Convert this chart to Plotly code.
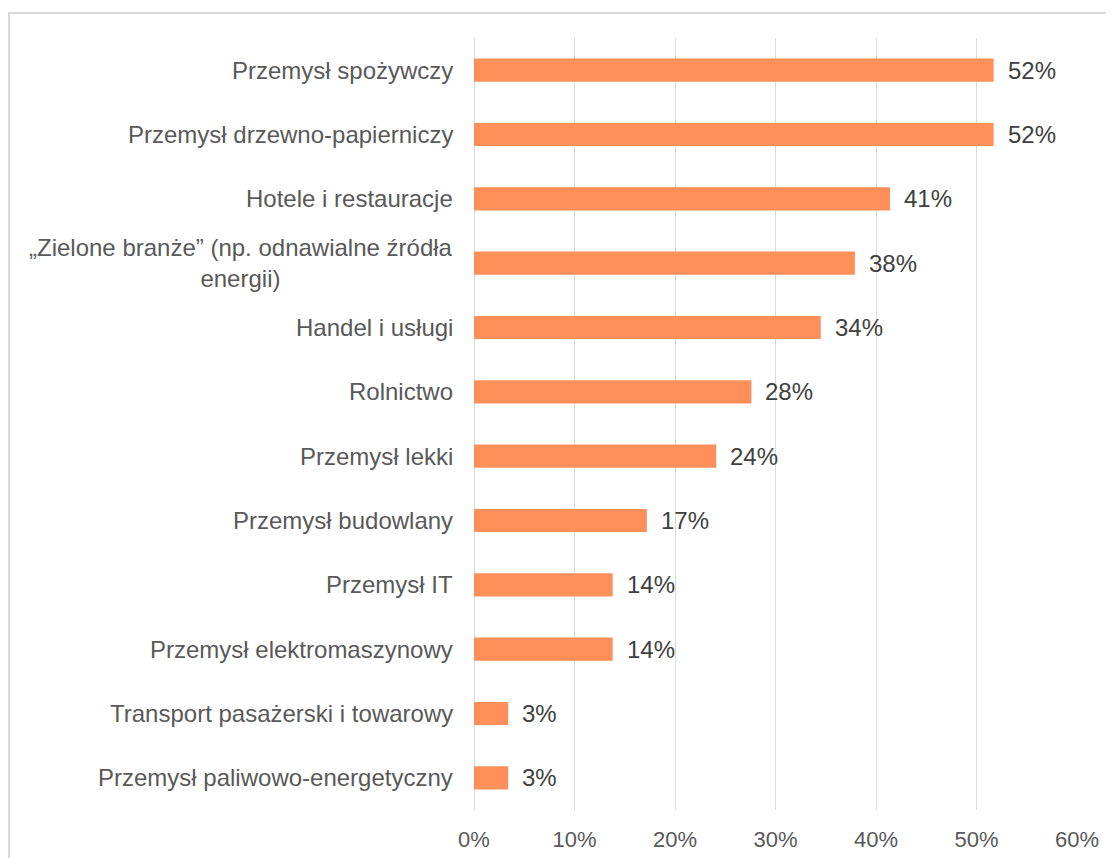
import plotly.graph_objects as go

categories = [
    "Przemysł spożywczy",
    "Przemysł drzewno-papierniczy",
    "Hotele i restauracje",
    "„Zielone branże” (np. odnawialne źródła<br>energii)",
    "Handel i usługi",
    "Rolnictwo",
    "Przemysł lekki",
    "Przemysł budowlany",
    "Przemysł IT",
    "Przemysł elektromaszynowy",
    "Transport pasażerski i towarowy",
    "Przemysł paliwowo-energetyczny",
]
values = [51.7, 51.7, 41.4, 37.9, 34.5, 27.6, 24.1, 17.2, 13.8, 13.8, 3.4, 3.4]
value_labels = ["52%", "52%", "41%", "38%", "34%", "28%", "24%", "17%", "14%", "14%", "3%", "3%"]
tick_vals = [0, 10, 20, 30, 40, 50, 60]
tick_text = ["0%", "10%", "20%", "30%", "40%", "50%", "60%"]

ycats = list(range(len(categories)))

fig = go.Figure()
fig.add_trace(go.Bar(
    x=values, y=ycats, orientation="h",
    marker=dict(color="#FF8F59", line=dict(width=0)),
    width=0.36, hoverinfo="skip",
))

annotations = []
for i, (c, v, lab) in enumerate(zip(categories, values, value_labels)):
    annotations.append(dict(
        x=0, y=i, xref="x", yref="y", text=c, showarrow=False,
        xanchor="right", yanchor="middle", align="center", xshift=-19,
        font=dict(family="Liberation Sans, Arial, sans-serif", size=24, color="#595959"),
    ))
    annotations.append(dict(
        x=v, y=i, xref="x", yref="y", text=lab, showarrow=False,
        xanchor="left", yanchor="middle", xshift=12,
        font=dict(family="Liberation Sans, Arial, sans-serif", size=24, color="#404040"),
    ))

# page has an 8px body margin; plot area spans x 474..1077, y 38..810 in the window
fig.update_layout(
    width=1106, height=850,
    margin=dict(l=466, r=37, t=30, b=48, autoexpand=False),
    paper_bgcolor="white", plot_bgcolor="white",
    showlegend=False,
    annotations=annotations,
    xaxis=dict(
        range=[0, 60], tickvals=tick_vals, ticktext=tick_text,
        showgrid=True, gridcolor="#D9D9D9", gridwidth=1,
        zeroline=True, zerolinecolor="#D9D9D9", zerolinewidth=1,
        showline=False, ticks="", ticklabelstandoff=14, automargin=False,
        tickfont=dict(family="Liberation Sans Narrow, Arial Narrow, Liberation Sans, sans-serif", size=22, color="#595959"),
        fixedrange=True,
    ),
    yaxis=dict(
        range=[len(categories) - 0.5, -0.5],
        showticklabels=False, showgrid=False, zeroline=False, ticks="",
        automargin=False, fixedrange=True,
    ),
    shapes=[dict(
        type="rect", xref="paper", yref="paper",
        x0=(9 - 474) / 603, x1=(1130 - 474) / 603,
        y0=(810 - 880) / 772, y1=(810 - 13) / 772,
        line=dict(color="#D9D9D9", width=2), fillcolor="rgba(0,0,0,0)", layer="below",
    )],
)

fig.write_html("out.html", config={"displayModeBar": False})
